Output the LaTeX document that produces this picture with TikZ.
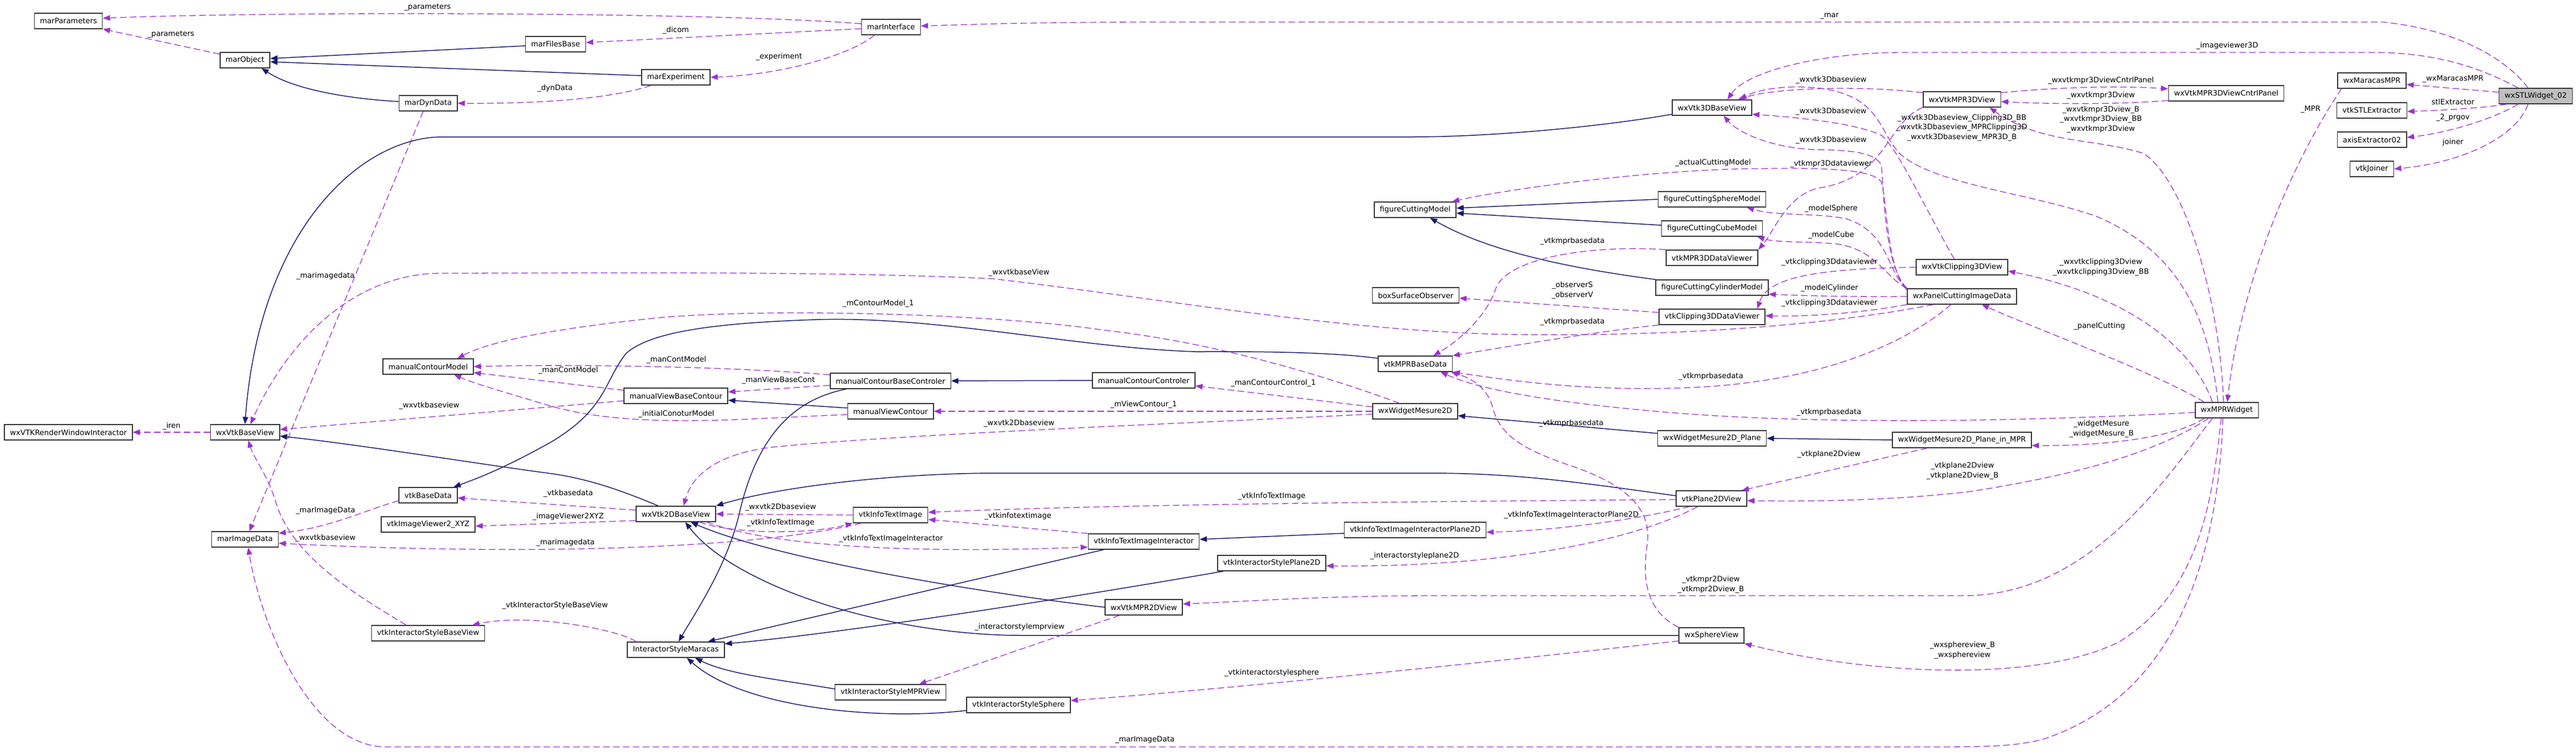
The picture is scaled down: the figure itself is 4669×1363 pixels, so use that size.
\documentclass[tikz,border=0pt]{standalone}
\usepackage{fontspec}
\setmainfont{DejaVu Sans}
\usetikzlibrary{arrows.meta}
\definecolor{usecol}{HTML}{9A32CD}
\definecolor{inhcol}{HTML}{191970}

\begin{document}
\begin{tikzpicture}[x=1pt,y=-1pt,
  cls/.style={draw=black!80,line width=1.5pt,fill=white,minimum height=28pt,inner xsep=10pt,inner ysep=0pt,font=\fontsize{13.4}{16}\selectfont},
  cur/.style={cls,fill=black!25},
  lbl/.style={inner sep=0pt,align=center,font=\fontsize{13.4}{17.5}\selectfont},
  assoc/.style={draw=usecol,line width=1.3pt,dash pattern=on 12pt off 6pt,-{Triangle[length=13pt,width=10pt]}},
  isa/.style={draw=inhcol,line width=1.5pt,-{Triangle[length=13pt,width=10pt]}}]

	\fill[white] (0,0) rectangle (4669,1363);
	\useasboundingbox (0,0) rectangle (4669,1363);

	\node[cls] (marParam) at (124,38) {marParameters};
	\node[cls] (marObj) at (444,109) {marObject};
	\node[cls] (marFiles) at (1007,80) {marFilesBase};
	\node[cls] (marExp) at (1225,140) {marExperiment};
	\node[cls] (marDyn) at (776,187) {marDynData};
	\node[cls] (marIf) at (1615,49) {marInterface};
	\node[cls] (wx3D) at (3103,195) {wxVtk3DBaseView};
	\node[cls] (wxMPR3D) at (3556,180) {wxVtkMPR3DView};
	\node[cls] (wxCntrl) at (4035,169) {wxVtkMPR3DViewCntrlPanel};
	\node[cls] (wxMarMPR) at (4299,146) {wxMaracasMPR};
	\node[cls] (stlExt) at (4299,200) {vtkSTLExtractor};
	\node[cls] (axisExt) at (4299,253) {axisExtractor02};
	\node[cls] (joiner) at (4299,306) {vtkJoiner};
	\node[cur] (stlW) at (4596,174) {wxSTLWidget\_02};
	\node[cls] (figCut) at (2565,380) {figureCuttingModel};
	\node[cls] (figSph) at (3103,361) {figureCuttingSphereModel};
	\node[cls] (figCube) at (3103,414) {figureCuttingCubeModel};
	\node[cls] (mpr3DDV) at (3103,467) {vtkMPR3DDataViewer};
	\node[cls] (figCyl) at (3103,521) {figureCuttingCylinderModel};
	\node[cls] (clip3DDV) at (3103,574) {vtkClipping3DDataViewer};
	\node[cls] (boxObs) at (2566,535) {boxSurfaceObserver};
	\node[cls] (wxClip3D) at (3556,484) {wxVtkClipping3DView};
	\node[cls] (panelCut) at (3556,537) {wxPanelCuttingImageData};
	\node[cls] (mprBase) at (2565,659) {vtkMPRBaseData};
	\node[cls] (manModel) at (776,664) {manualContourModel};
	\node[cls] (manBaseCtrl) at (1614,690) {manualContourBaseControler};
	\node[cls] (manCtrl) at (2073,689) {manualContourControler};
	\node[cls] (manViewBase) at (1225,717) {manualViewBaseContour};
	\node[cls] (manView) at (1614,745) {manualViewContour};
	\node[cls] (mes2D) at (2565,745) {wxWidgetMesure2D};
	\node[cls] (mprW) at (4036,743) {wxMPRWidget};
	\node[cls] (mesPlane) at (3103,794) {wxWidgetMesure2D\_Plane};
	\node[cls] (mesPlaneMPR) at (3556,797) {wxWidgetMesure2D\_Plane\_in\_MPR};
	\node[cls] (renWin) at (124,783) {wxVTKRenderWindowInteractor};
	\node[cls] (wxBase) at (444,783) {wxVtkBaseView};
	\node[cls] (vtkBase) at (776,897) {vtkBaseData};
	\node[cls] (plane2D) at (3102,903) {vtkPlane2DView};
	\node[cls] (wx2D) at (1225,931) {wxVtk2DBaseView};
	\node[cls] (infoTxt) at (1614,933) {vtkInfoTextImage};
	\node[cls] (viewerXYZ) at (776,950) {vtkImageViewer2\_XYZ};
	\node[cls] (infoIntPlane) at (2565,960) {vtkInfoTextImageInteractorPlane2D};
	\node[cls] (marImg) at (444,977) {marImageData};
	\node[cls] (infoInt) at (2073,981) {vtkInfoTextImageInteractor};
	\node[cls] (stylePlane) at (2305,1020) {vtkInteractorStylePlane2D};
	\node[cls] (wxMPR2D) at (2073,1100) {wxVtkMPR2DView};
	\node[cls] (styleBase) at (776,1147) {vtkInteractorStyleBaseView};
	\node[cls] (wxSph) at (3102,1151) {wxSphereView};
	\node[cls] (styleMar) at (1225,1177) {InteractorStyleMaracas};
	\node[cls] (styleMPR) at (1614,1254) {vtkInteractorStyleMPRView};
	\node[cls] (styleSph) at (1846,1277) {vtkInteractorStyleSphere};

	\draw[assoc] ([yshift=6pt]marIf.west) .. controls (1300,22) and (500,20) .. ([yshift=5pt]marParam.east);
	\draw[assoc] ([yshift=11pt]marObj.west) -- (marParam.south east);
	\draw[isa] ([yshift=-3pt]marFiles.west) -- ([yshift=3pt]marObj.east);
	\draw[isa] ([yshift=3pt]marExp.west) -- ([yshift=-3pt]marObj.east);
	\draw[isa] ([yshift=3pt]marDyn.west) .. controls (620,178) and (530,160) .. ([xshift=30pt]marObj.south);
	\draw[assoc] ([yshift=-3pt]marIf.west) -- ([yshift=3pt]marFiles.east);
	\draw[assoc] ([xshift=-30pt]marIf.south) .. controls (1540,100) and (1420,135) .. (marExp.east);
	\draw[assoc] ([xshift=-45pt]marExp.south) .. controls (1100,182) and (950,188) .. (marDyn.east);
	\draw[assoc] ([xshift=-9pt]marDyn.south) -- ([xshift=8pt]marImg.north);
	\node[lbl] (tParamA) at (775,13) {\_parameters};
	\node[lbl] (tParamB) at (310,62) {\_parameters};
	\node[lbl] (tDicom) at (1225,55) {\_dicom};
	\node[lbl] (tExp) at (1412,103) {\_experiment};
	\node[lbl] (tDyn) at (1006,160) {\_dynData};
	\node[lbl] (tMarImgA) at (590,500) {\_marimagedata};

	\draw[assoc] (wxBase.west) -- (renWin.east);
	\node[lbl] (tIren) at (311,772) {\_iren};
	\draw[isa] ([yshift=-12pt]wx3D.west) .. controls (2900,230) and (2700,248) .. (2560,248) -- (800,248) .. controls (650,250) and (470,420) .. (wxBase.north);
	\draw[isa] ([xshift=-32pt]wx2D.north) .. controls (1130,890) and (1070,868) .. (1000,858) .. controls (850,838) and (650,805) .. ([yshift=-7pt]wxBase.east);

	\draw[isa] (manCtrl.west) -- (manBaseCtrl.east);
	\draw[isa] ([yshift=6pt]manView.west) -- ([yshift=-8pt]manViewBase.east);
	\draw[assoc] ([yshift=11pt]manBaseCtrl.west) .. controls (1300,662) and (1000,660) .. (manModel.east);
	\draw[assoc] ([yshift=10pt]manViewBase.west) -- ([yshift=-11pt]manModel.east);
	\draw[assoc] ([yshift=-8pt]manBaseCtrl.west) -- ([yshift=7pt]manViewBase.east);
	\draw[assoc] ([yshift=-6pt]manView.west) .. controls (1350,758) and (1150,778) .. (1000,736) .. controls (930,715) and (860,695) .. ([xshift=47pt]manModel.south);
	\draw[assoc] ([yshift=-9pt]manViewBase.west) -- ([yshift=5pt]wxBase.east);
	\draw[isa] ([xshift=-80pt]manBaseCtrl.south) .. controls (1430,725) and (1370,800) .. (1340,930) .. controls (1318,1025) and (1260,1110) .. ([xshift=5pt]styleMar.north);
	\node[lbl] (tManCMA) at (1226,652) {\_manContModel};
	\node[lbl] (tManCMB) at (1030,671) {\_manContModel};
	\node[lbl] (tManVBC) at (1411,689) {\_manViewBaseCont};
	\node[lbl] (tInitCM) at (1226,750) {\_initialConoturModel};
	\node[lbl] (tWxBaseA) at (778,735) {\_wxvtkbaseview};

	\draw[isa] ([yshift=9pt]mesPlane.west) -- ([yshift=-8pt]mes2D.east);
	\draw[isa] (mesPlaneMPR.west) -- (mesPlane.east);
	\draw[assoc] ([yshift=8pt]mes2D.west) -- ([yshift=-10pt]manCtrl.east);
	\draw[assoc] (mes2D.west) -- (manView.east);
	\draw[assoc] ([xshift=-29pt]mes2D.north) .. controls (2400,680) and (2200,620) .. (2000,598) .. controls (1800,568) and (1400,558) .. (1200,575) .. controls (1050,590) and (900,612) .. ([xshift=53pt]manModel.north);
	\draw[assoc] ([yshift=-5pt]mes2D.west) .. controls (2200,765) and (1650,785) .. (1400,810) .. controls (1300,822) and (1255,860) .. ([xshift=14pt]wx2D.north);
	\node[lbl] (tMCM) at (1592,550) {\_mContourModel\_1};
	\node[lbl] (tMCC) at (2308,694) {\_manContourControl\_1};
	\node[lbl] (tMVC) at (2073,733) {\_mViewContour\_1};
	\node[lbl] (tWx2DA) at (1847,767) {\_wxvtk2Dbaseview};

	\draw[isa] ([yshift=10pt]mprBase.west) .. controls (2400,636) and (2250,637) .. (2166,637) .. controls (1950,630) and (1700,572) .. (1478,579) .. controls (1300,585) and (1180,600) .. (1135,640) .. controls (1095,690) and (1100,740) .. (1000,800) .. controls (920,845) and (870,865) .. ([xshift=46pt]vtkBase.north);

	\draw[assoc] ([yshift=7pt]wx2D.west) -- ([yshift=-5pt]vtkBase.east);
	\draw[assoc] ([yshift=-12pt]wx2D.west) -- ([yshift=-3pt]viewerXYZ.east);
	\draw[assoc] ([yshift=-10pt]vtkBase.west) .. controls (660,925) and (600,955) .. ([yshift=11pt]marImg.east);
	\draw[assoc] ([xshift=-53pt]infoTxt.south) .. controls (1450,975) and (1250,992) .. (1000,995) .. controls (800,997) and (620,990) .. ([yshift=-7pt]marImg.east);
	\draw[assoc] (infoTxt.west) -- (wx2D.east);
	\draw[assoc] ([xshift=43pt]wx2D.south) .. controls (1330,968) and (1470,968) .. (infoTxt.south west);
	\draw[assoc] ([xshift=56pt]wx2D.south) .. controls (1400,990) and (1650,1003) .. ([yshift=-10pt]infoInt.west);
	\draw[assoc] (infoInt.north west) -- ([yshift=-8pt]infoTxt.east);
	\node[lbl] (tVtkBD) at (1030,894) {\_vtkbasedata};
	\node[lbl] (tXYZ) at (1030,936) {\_imageViewer2XYZ};
	\node[lbl] (tMarImgB) at (590,925) {\_marImageData};
	\node[lbl] (tMarImgC) at (1025,983) {\_marimagedata};
	\node[lbl] (tWx2DB) at (1415,919) {\_wxvtk2Dbaseview};
	\node[lbl] (tInfoA) at (1415,947) {\_vtkInfoTextImage};
	\node[lbl] (tInfoInt) at (1615,976) {\_vtkInfoTextImageInteractor};
	\node[lbl] (tInfoB) at (1845,935) {\_vtkinfotextimage};

	\draw[isa] ([xshift=-73pt]infoInt.south) -- ([xshift=58pt]styleMar.north);
	\draw[isa] ([xshift=-88pt]stylePlane.south) .. controls (1900,1090) and (1500,1150) .. ([yshift=-4pt]styleMar.north east);
	\draw[isa] ([yshift=6pt]styleMPR.west) .. controls (1420,1232) and (1320,1222) .. ([xshift=35pt]styleMar.south);
	\draw[isa] ([yshift=-10pt]styleSph.west) .. controls (1600,1305) and (1350,1285) .. ([xshift=20pt]styleMar.south);
	\draw[assoc] ([xshift=-72pt]styleMar.north) .. controls (1120,1140) and (960,1110) .. ([xshift=80pt]styleBase.north);
	\draw[assoc] ([xshift=-40pt]styleBase.north) .. controls (650,1080) and (530,1010) .. (500,910) .. controls (485,860) and (460,830) .. ([xshift=6pt]wxBase.south);
	\node[lbl] (tStyleBV) at (1006,1097) {\_vtkInteractorStyleBaseView};
	\node[lbl] (tWxBaseB) at (590,975) {\_wxvtkbaseview};

	\draw[isa] (wxMPR2D.west) .. controls (1750,1070) and (1400,1010) .. ([xshift=27pt]wx2D.south);
	\draw[isa] (wxSph.west) -- (1850,1151) .. controls (1600,1150) and (1330,1060) .. ([xshift=17pt]wx2D.south);
	\draw[isa] ([yshift=5pt]plane2D.west) .. controls (2850,872) and (2750,858) .. (2600,857) -- (1800,857) .. controls (1600,858) and (1400,885) .. (wx2D.north east);
	\draw[assoc] ([yshift=-2pt]plane2D.west) .. controls (2600,908) and (2000,914) .. ([yshift=5pt]infoTxt.east);
	\draw[assoc] ([xshift=-40pt]plane2D.south) .. controls (2950,945) and (2800,962) .. ([yshift=-4pt]infoIntPlane.east);
	\draw[isa] ([yshift=-6pt]infoIntPlane.west) -- ([yshift=4pt]infoInt.east);
	\draw[assoc] ([xshift=-25pt]plane2D.south) .. controls (2950,985) and (2700,1028) .. ([yshift=-5pt]stylePlane.east);
	\draw[assoc] ([xshift=-44pt]wxMPR2D.south) -- ([xshift=52pt]styleMPR.north);
	\draw[assoc] ([yshift=-10pt]wxSph.west) .. controls (2700,1200) and (2200,1250) .. ([yshift=8pt]styleSph.east);
	\draw[assoc] ([xshift=-63pt]mesPlaneMPR.south) -- ([xshift=55pt]plane2D.north);
	\node[lbl] (tInfoC) at (2305,899) {\_vtkInfoTextImage};
	\node[lbl] (tInfoIntP) at (2848,933) {\_vtkInfoTextImageInteractorPlane2D};
	\node[lbl] (tStyleP2D) at (2564,1007) {\_interactorstyleplane2D};
	\node[lbl] (tStyleMPR) at (1848,1136) {\_interactorstylemprview};
	\node[lbl] (tStyleSph) at (2305,1219) {\_vtkinteractorstylesphere};
	\node[lbl] (tPlaneA) at (3315,823) {\_vtkplane2Dview};

	\draw[isa] (figSph.west) -- ([yshift=3pt]figCut.east);
	\draw[isa] ([yshift=6pt]figCube.west) -- ([yshift=-6pt]figCut.east);
	\draw[isa] (figCyl.north west) .. controls (2800,480) and (2680,445) .. ([xshift=27pt]figCut.south);
	\draw[assoc] ([yshift=8pt]clip3DDV.west) -- ([yshift=-5pt]boxObs.east);
	\draw[assoc] (clip3DDV.south west) .. controls (2900,600) and (2750,625) .. (mprBase.north east);
	\draw[assoc] (mpr3DDV.north west) .. controls (2900,444) and (2740,462) .. (2712,520) .. controls (2695,575) and (2640,620) .. ([xshift=33pt]mprBase.north);
	\node[lbl] (tMprA) at (2850,437) {\_vtkmprbasedata};
	\node[lbl] (tObs) at (2850,526) {\_observerS\\\_observerV};
	\node[lbl] (tMprB) at (2850,583) {\_vtkmprbasedata};

	\draw[assoc] ([yshift=-3pt]panelCut.north west) .. controls (3420,490) and (3420,360) .. (3410,330) .. controls (3395,305) and (3300,303) .. (3150,306) .. controls (2950,312) and (2720,345) .. ([xshift=-8pt]figCut.north east);
	\draw[assoc] (panelCut.north west) .. controls (3420,495) and (3425,420) .. (3345,396) .. controls (3290,385) and (3220,392) .. ([xshift=63pt]figSph.south);
	\draw[assoc] (panelCut.north west) .. controls (3420,505) and (3400,452) .. (3330,442) .. controls (3280,437) and (3220,440) .. ([xshift=82pt]figCube.south);
	\draw[assoc] (panelCut.west) .. controls (3330,538) and (3260,535) .. ([yshift=-12pt]figCyl.east);
	\draw[assoc] (panelCut.south west) .. controls (3380,566) and (3280,574) .. ([yshift=2pt]clip3DDV.east);
	\draw[assoc] (wxClip3D.west) .. controls (3300,487) and (3205,500) .. ([xshift=82pt]clip3DDV.north);
	\draw[assoc] ([xshift=-52pt]panelCut.south) .. controls (3300,592) and (3000,612) .. (2700,605) .. controls (2400,595) and (2100,540) .. (1800,505) .. controls (1500,490) and (1000,495) .. (800,495) .. controls (640,495) and (520,620) .. ([xshift=10pt]wxBase.north);
	\draw[assoc] ([xshift=-20pt]panelCut.south) .. controls (3480,600) and (3350,682) .. (3100,700) .. controls (2900,713) and (2740,690) .. (mprBase.south east);
	\draw[assoc] ([xshift=-14pt]wxClip3D.north) .. controls (3480,360) and (3440,270) .. (3410,245) .. controls (3360,222) and (3250,212) .. ([yshift=-12pt]wx3D.east);
	\draw[assoc] ([yshift=12pt]wxMPR3D.west) .. controls (3380,155) and (3220,158) .. ([xshift=47pt]wx3D.north);
	\draw[assoc] (panelCut.north west) .. controls (3415,480) and (3415,350) .. (3410,300) .. controls (3400,275) and (3350,272) .. (3290,271) .. controls (3210,268) and (3150,240) .. ([xshift=21pt]wx3D.south);
	\node[lbl] (tW3DA) at (3319,145) {\_wxvtk3Dbaseview};
	\node[lbl] (tW3DB) at (3319,202) {\_wxvtk3Dbaseview};
	\node[lbl] (tW3DC) at (3319,254) {\_wxvtk3Dbaseview};
	\node[lbl] (tActCut) at (3105,295) {\_actualCuttingModel};
	\node[lbl] (tMpr3DDV) at (3319,297) {\_vtkmpr3Ddataviewer};
	\node[lbl] (tSph) at (3319,378) {\_modelSphere};
	\node[lbl] (tCube) at (3319,426) {\_modelCube};
	\node[lbl] (tClipA) at (3316,475) {\_vtkclipping3Ddataviewer};
	\node[lbl] (tCyl) at (3316,522) {\_modelCylinder};
	\node[lbl] (tClipB) at (3316,549) {\_vtkclipping3Ddataviewer};
	\node[lbl] (tWxBaseC) at (1847,494) {\_wxvtkbaseView};
	\node[lbl] (tMprC) at (3101,682) {\_vtkmprbasedata};

	\draw[assoc] (wxMPR3D.south west) .. controls (3420,220) and (3422,320) .. (3300,340) .. controls (3240,350) and (3215,420) .. (mpr3DDV.north east);
	\draw[assoc] ([yshift=12pt]wxMPR3D.east) .. controls (3750,156) and (3860,156) .. ([yshift=8pt]wxCntrl.west);
	\draw[assoc] ([yshift=-13pt]wxCntrl.west) .. controls (3850,189) and (3720,189) .. ([yshift=-4pt]wxMPR3D.east);
	\node[lbl] (tCntrl) at (3808,146) {\_wxvtkmpr3DviewCntrlPanel};
	\node[lbl] (tMpr3DV) at (3808,173) {\_wxvtkmpr3Dview};

	\draw[assoc] ([xshift=-14pt]stlW.north) .. controls (4545,110) and (4460,55) .. (4320,40) -- (2100,40) .. controls (1850,40) and (1750,45) .. ([yshift=2pt]marIf.east);
	\draw[assoc] ([xshift=-32pt]stlW.north) .. controls (4500,125) and (4420,95) .. (4300,95) -- (3450,95) .. controls (3300,95) and (3165,130) .. ([xshift=28pt]wx3D.north);
	\draw[assoc] ([yshift=7pt]stlW.west) -- ([yshift=-7pt]wxMarMPR.east);
	\draw[assoc] ([xshift=-53pt]stlW.south) .. controls (4500,196) and (4420,200) .. ([yshift=-2pt]stlExt.east);
	\draw[assoc] ([xshift=-32pt]stlW.south) .. controls (4520,215) and (4440,240) .. ([yshift=4pt]axisExt.east);
	\draw[assoc] ([xshift=-14pt]stlW.south) .. controls (4560,250) and (4460,295) .. (joiner.east);
	\draw[assoc] ([xshift=-55pt]wxMarMPR.south) .. controls (4150,300) and (4060,520) .. ([xshift=1pt]mprW.north);
	\node[lbl] (tMar) at (3316,29) {\_mar};
	\node[lbl] (tImg3D) at (4037,83) {\_imageviewer3D};
	\node[lbl] (tMarMPR) at (4446,143) {\_wxMaracasMPR};
	\node[lbl] (tStlExt) at (4446,185) {stlExtractor};
	\node[lbl] (tPrgov) at (4446,213) {\_2\_prgov};
	\node[lbl] (tJoiner) at (4446,258) {joiner};
	\node[lbl] (tMPR) at (4188,198) {\_MPR};

	\draw[assoc] ([xshift=-41pt]mprW.north) .. controls (3900,672) and (3700,600) .. ([xshift=36pt]panelCut.south);
	\draw[assoc] ([xshift=-26pt]mprW.north) .. controls (3975,630) and (3860,535) .. ([yshift=-7pt]wxClip3D.east);
	\draw[assoc] ([xshift=-16pt]mprW.north) .. controls (4005,590) and (3960,460) .. (3800,392) .. controls (3680,350) and (3510,335) .. (3445,280) .. controls (3405,240) and (3410,175) .. (3300,160) .. controls (3230,152) and (3180,165) .. ([xshift=50pt]wx3D.north);
	\draw[assoc] ([xshift=-6pt]mprW.north) .. controls (4025,560) and (3965,330) .. (3885,278) .. controls (3800,250) and (3700,262) .. ([xshift=50pt]wxMPR3D.south);
	\draw[assoc] ([xshift=-41pt]mprW.south) .. controls (3940,795) and (3800,808) .. ([yshift=-10pt]mesPlaneMPR.east);
	\draw[assoc] ([xshift=-33pt]mprW.south) .. controls (3900,825) and (3750,862) .. (3574,890) .. controls (3420,908) and (3280,908) .. ([yshift=-4pt]plane2D.east);
	\draw[assoc] ([xshift=-26pt]mprW.south) .. controls (3930,860) and (3790,1079) .. (3560,1079) -- (2600,1079) .. controls (2400,1079) and (2250,1090) .. ([yshift=6pt]wxMPR2D.east);
	\draw[assoc] ([xshift=-10pt]mprW.south) .. controls (4010,900) and (3990,1070) .. (3842,1162) .. controls (3700,1235) and (3400,1225) .. (wxSph.south east);
	\draw[assoc] ([xshift=-7pt]mprW.south) .. controls (4020,1000) and (3950,1260) .. (3700,1340) .. controls (3650,1352) and (3600,1353) .. (3500,1353) -- (700,1353) .. controls (560,1353) and (470,1120) .. ([xshift=6pt]marImg.south);
	\draw[assoc] ([yshift=-4pt]mprW.west) .. controls (3700,762) and (3300,772) .. (3000,745) .. controls (2800,727) and (2680,705) .. ([xshift=46pt]mprBase.south);
	\draw[assoc] (wxSph.north west) .. controls (2990,1110) and (2975,1060) .. (2985,990) .. controls (2995,930) and (2960,885) .. (2860,848) .. controls (2760,815) and (2720,790) .. (2706,740) .. controls (2696,700) and (2665,685) .. ([xshift=65pt]mprBase.south);
	\node[lbl] (tPanel) at (3805,591) {\_panelCutting};
	\node[lbl] (tClipView) at (3808,484) {\_wxvtkclipping3Dview\\\_wxvtkclipping3Dview\_BB};
	\node[lbl] (tW3DMPR) at (3556,231) {\_wxvtk3Dbaseview\_Clipping3D\_BB\\\_wxvtk3Dbaseview\_MPRClipping3D\\\_wxvtk3Dbaseview\_MPR3D\_B};
	\node[lbl] (tMpr3DVB) at (3808,216) {\_wxvtkmpr3Dview\_B\\\_wxvtkmpr3Dview\_BB\\\_wxvtkmpr3Dview};
	\node[lbl] (tMes) at (3809,777) {\_widgetMesure\\\_widgetMesure\_B};
	\node[lbl] (tPlaneB) at (3557,853) {\_vtkplane2Dview\\\_vtkplane2Dview\_B};
	\node[lbl] (tMpr2D) at (3101,1059) {\_vtkmpr2Dview\\\_vtkmpr2Dview\_B};
	\node[lbl] (tSphV) at (3557,1178) {\_wxsphereview\_B\\\_wxsphereview};
	\node[lbl] (tMarImgD) at (2075,1340) {\_marImageData};
	\node[lbl] (tMprD) at (3315,747) {\_vtkmprbasedata};
	\node[lbl] (tMprE) at (2848,767) {\_vtkmprbasedata};
\end{tikzpicture}
\end{document}
